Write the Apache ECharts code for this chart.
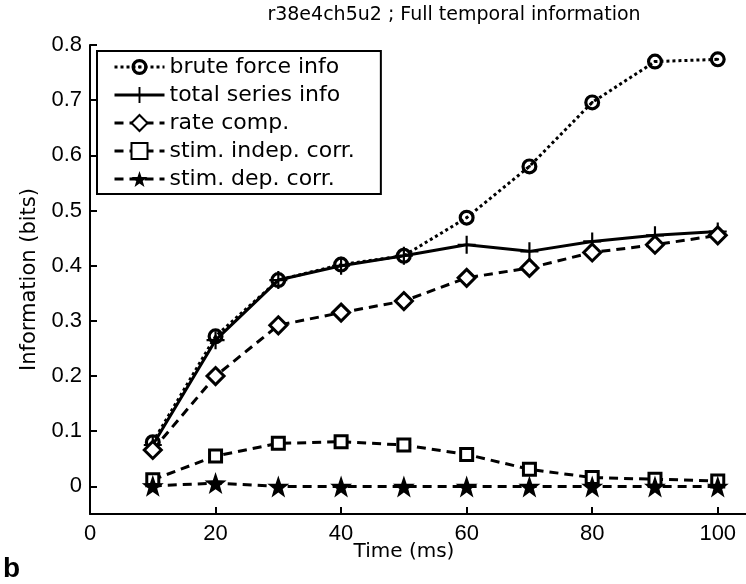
<!DOCTYPE html>
<html>
<head>
<meta charset="utf-8">
<script src="https://cdn.jsdelivr.net/npm/echarts@6/dist/echarts.min.js"></script>
<style>html,body{margin:0;padding:0;background:#fff}#c{width:746px;height:584px}</style>
</head>
<body>
<div id="c"></div>
<script>
const times = [10, 20, 30, 40, 50, 60, 70, 80, 90, 100];
const bruteForce = [0.080, 0.272, 0.374, 0.402, 0.418, 0.487, 0.580, 0.696, 0.770, 0.774];
const totalSeries = [0.075, 0.265, 0.374, 0.400, 0.418, 0.438, 0.426, 0.444, 0.455, 0.462];
const rateComp = [0.066, 0.200, 0.292, 0.315, 0.336, 0.378, 0.396, 0.424, 0.438, 0.455];
const stimIndep = [0.012, 0.055, 0.078, 0.081, 0.075, 0.058, 0.031, 0.016, 0.013, 0.010];
const stimDep = [0.001, 0.006, 0.000, 0.000, 0.000, 0.000, 0.000, 0.000, 0.000, 0.000];
const xTicks = [0, 20, 40, 60, 80, 100];
const yTicks = [0, 0.1, 0.2, 0.3, 0.4, 0.5, 0.6, 0.7, 0.8];
const seriesNames = ['brute force info', 'total series info', 'rate comp.', 'stim. indep. corr.', 'stim. dep. corr.'];

const LIB = 'Liberation Sans';
const DJ = 'DejaVu Sans';
const pair = arr => times.map((t, i) => [t, arr[i]]);
const circleDot = 'path://M0,-10A10,10 0 1,1 0,10A10,10 0 1,1 0,-10Z M0,-6A6,6 0 1,0 0,6A6,6 0 1,0 0,-6Z M0,-1.8A1.8,1.8 0 1,1 0,1.8A1.8,1.8 0 1,1 0,-1.8Z';
const plus = 'path://M-1.2,-10L1.2,-10L1.2,-1.2L10,-1.2L10,1.2L1.2,1.2L1.2,10L-1.2,10L-1.2,1.2L-10,1.2L-10,-1.2L-1.2,-1.2Z';
const star = 'path://M0,-10L2.35,-3.24L9.51,-3.09L3.8,1.24L5.88,8.09L0,4L-5.88,8.09L-3.8,1.24L-9.51,-3.09L-2.35,-3.24Z';

function mk(name, data, sym, size, type, empty) {
  return {
    name, type: 'line', data: pair(data), symbol: sym, symbolSize: size,
    showAllSymbol: true,
    lineStyle: { color: '#000', width: 3, type: type },
    itemStyle: empty ? { color: '#fff', borderColor: '#000', borderWidth: 3 } : { color: '#000', borderWidth: 0 },
    emphasis: { disabled: true }, animation: false
  };
}

const chart = echarts.init(document.getElementById('c'), null, { renderer: 'canvas' });
chart.setOption({
  backgroundColor: '#fff',
  animation: false,
  textStyle: { fontFamily: LIB, color: '#000' },
  grid: { left: 90, right: 0, top: 45, bottom: 70, containLabel: false },
  legend: {
    orient: 'vertical', left: 97, top: 51,
    data: seriesNames,
    backgroundColor: '#fff', borderColor: '#000', borderWidth: 2,
    padding: [5, 26, 4, 16],
    itemWidth: 50, itemHeight: 20, itemGap: 6,
    lineStyle: { width: 3 },
    textStyle: { fontFamily: DJ, fontSize: 22, lineHeight: 22, color: '#000' },
    selectedMode: false
  },
  xAxis: {
    type: 'value', min: 0, max: 104.5,
    axisLine: { show: true, onZero: false, lineStyle: { color: '#000', width: 2 } },
    axisTick: { inside: true, length: 7, lineStyle: { color: '#000', width: 2 }, customValues: xTicks },
    axisLabel: { color: '#000', fontSize: 22, fontFamily: LIB, margin: 9, customValues: xTicks },
    splitLine: { show: false }
  },
  yAxis: {
    type: 'value', min: -0.05, max: 0.8,
    name: 'Information (bits)', nameLocation: 'middle', nameGap: 40,
    nameTextStyle: { fontSize: 21, fontFamily: DJ, color: '#000' },
    axisLine: { show: true, onZero: false, lineStyle: { color: '#000', width: 2 } },
    axisTick: { inside: true, length: 7, lineStyle: { color: '#000', width: 2 }, customValues: yTicks },
    axisLabel: { color: '#000', fontSize: 22, fontFamily: LIB, margin: 8, customValues: yTicks,
      formatter: v => (Math.abs(v) < 1e-9 ? '0' : v.toFixed(1)) },
    splitLine: { show: false }
  },
  graphic: [
    { type: 'text', x: 454, y: 15, style: { text: 'r38e4ch5u2 ; Full temporal information', fontSize: 19, fontFamily: DJ, fill: '#000', textAlign: 'center', textVerticalAlign: 'middle' } },
    { type: 'text', x: 404, y: 552, style: { text: 'Time (ms)', fontSize: 20, fontFamily: DJ, fill: '#000', textAlign: 'center', textVerticalAlign: 'middle' } },
    { type: 'text', x: 3, y: 569, style: { text: 'b', fontSize: 28, fontWeight: 'bold', fontFamily: LIB, fill: '#000', textVerticalAlign: 'middle' } }
  ],
  series: [
    mk(seriesNames[0], bruteForce, circleDot, 16, 'dotted', false),
    mk(seriesNames[1], totalSeries, plus, 18, 'solid', false),
    mk(seriesNames[2], rateComp, 'diamond', 17, [9, 6], true),
    mk(seriesNames[3], stimIndep, 'rect', 12, [9, 6], true),
    mk(seriesNames[4], stimDep, star, 22, [9, 6], false)
  ]
});
</script>
</body>
</html>
